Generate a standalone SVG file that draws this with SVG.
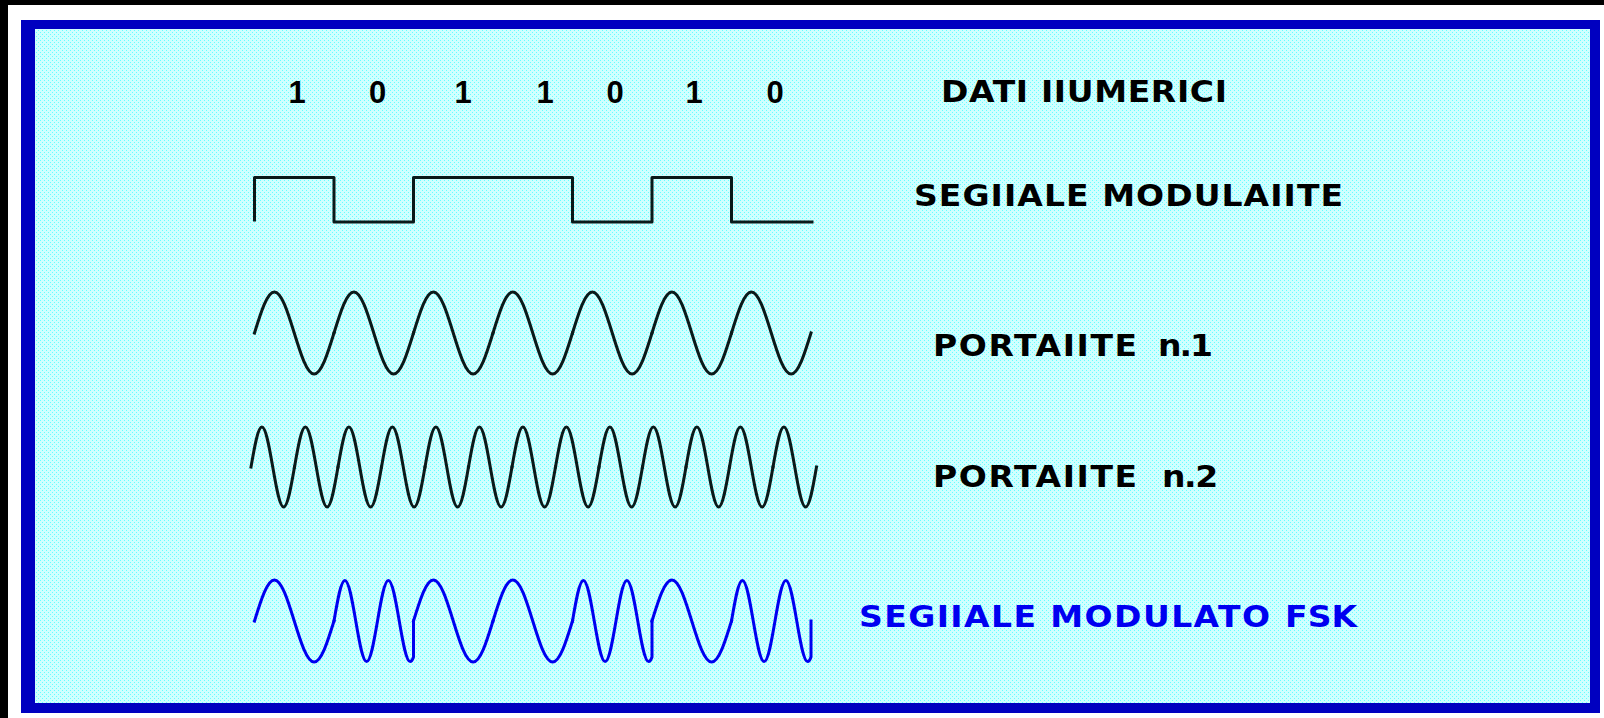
<svg xmlns="http://www.w3.org/2000/svg" xmlns:xlink="http://www.w3.org/1999/xlink" width="1604" height="718" viewBox="0 0 1604 718">
  <style>
    .lbl { font-family: "DejaVu Sans", "Liberation Sans", Arial, sans-serif; font-weight: bold; font-size: 30px; fill: #000000; }
    .blue { fill: #0000f0; }
    .dig { font-family: "Liberation Sans", Arial, sans-serif; font-weight: bold; font-size: 31px; fill: #000000; text-anchor: middle; }
    .wave { fill: none; stroke: #0a1a1a; stroke-width: 3; stroke-linejoin: round; stroke-linecap: square; }
    .fsk { fill: none; stroke: #0000f0; stroke-width: 3; stroke-linejoin: round; stroke-linecap: square; }
  </style>
  <defs>
    <pattern id="dither" width="4" height="4" patternUnits="userSpaceOnUse">
      <rect width="4" height="4" fill="#d0ffff"/>
      <rect x="0" y="0" width="1" height="1" fill="#66ffff"/>
      <rect x="2" y="2" width="1" height="1" fill="#66ffff"/>
    </pattern>
    <path id="slow" d="M0,0 C6.48,-21 12.68,-41 19.88,-41 C27.07,-41 33.27,-21 39.75,0 C46.23,21 52.43,41 59.63,41 C66.82,41 73.02,21 79.5,0"/>
    <path id="fast" d="M0,0 C3.55,-20.49 6.94,-40 10.88,-40 C14.81,-40 18.2,-20.49 21.75,0 C25.3,20.49 28.69,40 32.63,40 C36.56,40 39.95,20.49 43.5,0"/>
    <path id="fastseg" d="M0,0 C3.55,-20.75 6.94,-40.5 10.88,-40.5 C14.81,-40.5 18.2,-20.75 21.75,0 C25.3,20.75 28.69,40.5 32.63,40.5 C36.56,40.5 39.95,20.75 43.5,0 C47.05,-20.75 50.44,-40.5 54.38,-40.5 C58.31,-40.5 61.7,-20.75 65.25,0 C68.8,20.75 72.19,40.5 76.13,40.5 Q78,40.5 79.5,36 L79.5,0"/>
  </defs>

  <!-- frame -->
  <rect x="0" y="0" width="1604" height="718" fill="#ffffff"/>
  <rect x="0" y="0" width="1604" height="5" fill="#000000"/>
  <rect x="0" y="0" width="8" height="718" fill="#000000"/>
  <rect x="21" y="20" width="1579" height="693" fill="#0000c0"/>
  <rect x="35" y="29" width="1555" height="674" fill="url(#dither)"/>

  <!-- data bits -->
  <g id="bits">
    <text class="dig" x="297" y="103">1</text>
    <text class="dig" x="377.5" y="103">0</text>
    <text class="dig" x="463" y="103">1</text>
    <text class="dig" x="545" y="103">1</text>
    <text class="dig" x="615" y="103">0</text>
    <text class="dig" x="694" y="103">1</text>
    <text class="dig" x="775" y="103">0</text>
  </g>

  <!-- modulating signal -->
  <g id="square">
    <path class="wave" d="M254.5,220 V177.5 H334 V222 H413.5 V177.5 H572.5 V222 H652 V177.5 H731.5 V222 H812"/>
  </g>

  <!-- carrier 1 -->
  <g id="carrier1" class="wave">
    <use xlink:href="#slow" href="#slow" x="254.5" y="333"/>
    <use xlink:href="#slow" href="#slow" x="334" y="333"/>
    <use xlink:href="#slow" href="#slow" x="413.5" y="333"/>
    <use xlink:href="#slow" href="#slow" x="493" y="333"/>
    <use xlink:href="#slow" href="#slow" x="572.5" y="333"/>
    <use xlink:href="#slow" href="#slow" x="652" y="333"/>
    <use xlink:href="#slow" href="#slow" x="731.5" y="333"/>
  </g>

  <!-- carrier 2 -->
  <g id="carrier2" class="wave">
    <use xlink:href="#fast" href="#fast" x="251" y="467"/>
    <use xlink:href="#fast" href="#fast" x="294.5" y="467"/>
    <use xlink:href="#fast" href="#fast" x="338" y="467"/>
    <use xlink:href="#fast" href="#fast" x="381.5" y="467"/>
    <use xlink:href="#fast" href="#fast" x="425" y="467"/>
    <use xlink:href="#fast" href="#fast" x="468.5" y="467"/>
    <use xlink:href="#fast" href="#fast" x="512" y="467"/>
    <use xlink:href="#fast" href="#fast" x="555.5" y="467"/>
    <use xlink:href="#fast" href="#fast" x="599" y="467"/>
    <use xlink:href="#fast" href="#fast" x="642.5" y="467"/>
    <use xlink:href="#fast" href="#fast" x="686" y="467"/>
    <use xlink:href="#fast" href="#fast" x="729.5" y="467"/>
    <use xlink:href="#fast" href="#fast" x="773" y="467"/>
  </g>

  <!-- FSK modulated signal -->
  <g id="fsk" class="fsk">
    <use xlink:href="#slow" href="#slow" x="254.5" y="621"/>
    <use xlink:href="#fastseg" href="#fastseg" x="334" y="621"/>
    <use xlink:href="#slow" href="#slow" x="413.5" y="621"/>
    <use xlink:href="#slow" href="#slow" x="493" y="621"/>
    <use xlink:href="#fastseg" href="#fastseg" x="572.5" y="621"/>
    <use xlink:href="#slow" href="#slow" x="652" y="621"/>
    <use xlink:href="#fastseg" href="#fastseg" x="731.5" y="621"/>
  </g>

  <!-- labels -->
  <g id="label-dati">
    <text class="lbl" transform="translate(941,101.5) scale(1.1,1)" x="0" y="0" textLength="260" lengthAdjust="spacing">DATI IIUMERICI</text>
  </g>
  <g id="label-segnale">
    <text class="lbl" transform="translate(914,206) scale(1.1,1)" x="0" y="0" textLength="390" lengthAdjust="spacing">SEGIIALE MODULAIITE</text>
  </g>
  <g id="label-portante1">
    <text class="lbl" transform="translate(933,355.5) scale(1.1,1)" x="0" y="0"><tspan textLength="185.5" lengthAdjust="spacing">PORTAIITE</tspan> <tspan x="204.5" textLength="50" lengthAdjust="spacing">n.1</tspan></text>
  </g>
  <g id="label-portante2">
    <text class="lbl" transform="translate(933,487) scale(1.1,1)" x="0" y="0"><tspan textLength="185.5" lengthAdjust="spacing">PORTAIITE</tspan> <tspan x="208.2" textLength="51" lengthAdjust="spacing">n.2</tspan></text>
  </g>
  <g id="label-fsk">
    <text class="lbl blue" transform="translate(859,627) scale(1.1,1)" x="0" y="0"><tspan textLength="373.6" lengthAdjust="spacing">SEGIIALE MODULATO</tspan> <tspan x="387.3" textLength="65.5" lengthAdjust="spacing">FSK</tspan></text>
  </g>
</svg>
